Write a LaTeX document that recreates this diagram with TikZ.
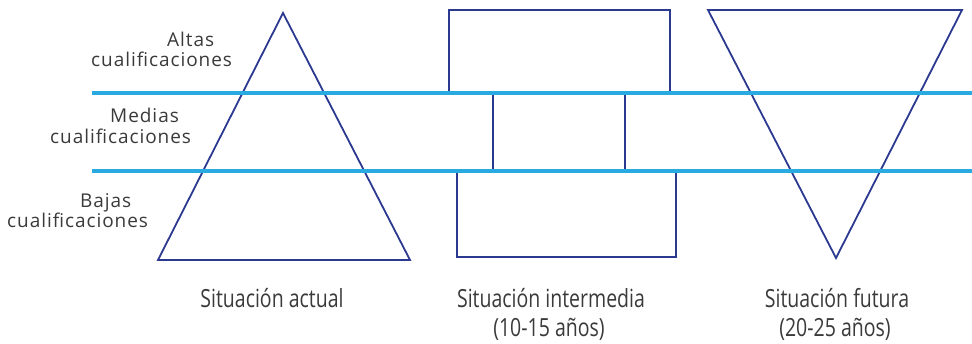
\documentclass[tikz,border=0pt]{standalone}
\usepackage{fontspec}
\setmainfont{Open Sans}
\newfontfamily\lblfont[LetterSpace=5]{Open Sans}
\newfontfamily\capfont[FakeStretch=0.78]{Open Sans}
\definecolor{navy}{HTML}{2B3990}
\definecolor{sky}{HTML}{29ABE2}
\definecolor{txt}{HTML}{3A3A3A}
\tikzset{
  outl/.style={draw=navy, line width=1.8pt, line join=miter},
  band/.style={draw=sky, line width=3.2pt},
  lvl/.style={anchor=base west, inner sep=0pt, text=txt, font=\lblfont\fontsize{19}{22}\selectfont},
  captxt/.style={anchor=base, inner sep=0pt, text=txt, font=\capfont\fontsize{25}{29}\selectfont}
}
\begin{document}
\begin{tikzpicture}[x=1pt,y=-1pt]
\useasboundingbox (0,0) rectangle (972,344);
% pyramid (current)
\coordinate (t1a) at (283,13);
\coordinate (t1l) at (158,260);
\coordinate (t1r) at (410,260);
\draw[outl] (t1a) -- (t1r) -- (t1l) -- cycle;
% intermediate
\coordinate (r1a) at (449,93);
\coordinate (r1b) at (670,10);
\draw[outl] (r1a) |- (r1b) -- (670,93);
\coordinate (m1a) at (493,93);
\coordinate (m1b) at (493,171);
\coordinate (m2a) at (625,93);
\coordinate (m2b) at (625,171);
\draw[outl] (m1a) -- (m1b) (m2a) -- (m2b);
\coordinate (r2a) at (457,171);
\coordinate (r2b) at (676,257);
\draw[outl] (r2a) |- (r2b) -- (676,171);
% inverted pyramid (future)
\coordinate (t2l) at (708,10);
\coordinate (t2r) at (962,10);
\coordinate (t2a) at (836,258);
\draw[outl] (t2l) -- (t2r) -- (t2a) -- cycle;
% bands
\coordinate (b1l) at (92,93);
\coordinate (b1r) at (972,93);
\coordinate (b2l) at (92,171);
\coordinate (b2r) at (972,171);
\draw[band] (b1l) -- (b1r);
\draw[band] (b2l) -- (b2r);
% level labels
\node[lvl] (alt1) at (167,47) {Altas};
\node[lvl] (alt2) at (91,67) {cualificaciones};
\node[lvl] (med1) at (110,123) {Medias};
\node[lvl] (med2) at (50,144) {cualificaciones};
\node[lvl] (baj1) at (80,208) {Bajas};
\node[lvl] (baj2) at (7,228) {cualificaciones};
% captions
\node[captxt] (c1) at (272,308) {Situación actual};
\node[captxt] (c2a) at (551,308) {Situación intermedia};
\node[captxt] (c2b) at (549,337) {(10-15 años)};
\node[captxt] (c3a) at (837,308) {Situación futura};
\node[captxt] (c3b) at (835,337) {(20-25 años)};
\end{tikzpicture}
\end{document}
